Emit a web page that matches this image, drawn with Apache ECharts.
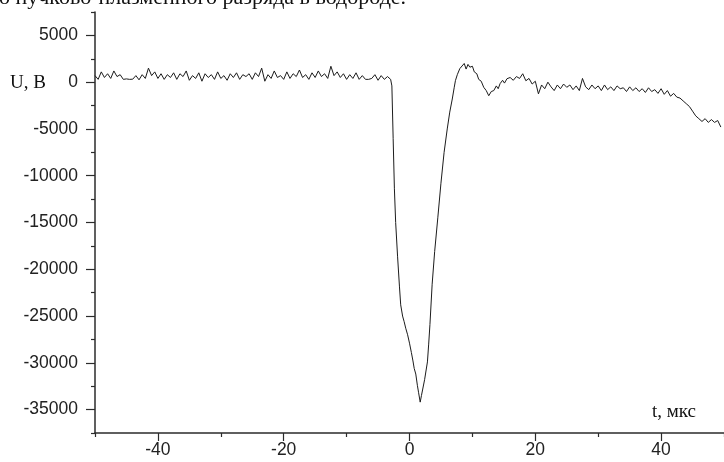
<!DOCTYPE html>
<html>
<head>
<meta charset="utf-8">
<script src="https://cdn.jsdelivr.net/npm/echarts@6/dist/echarts.min.js"></script>
<style>
  html, body { margin: 0; padding: 0; background: #fff; }
  #chart { width: 724px; height: 462px; }
</style>
</head>
<body>
<div id="chart"></div>
<script>
// voltage before the pulse, t = -50 ... -3.5 us, every 0.5 us
const preStart = -50;
const preStep = 0.5;
const preVolts = [
  700, 300, 1100, 500, 900, 400, 1200, 600, 800, 300,
  350, 300, 320, 700, 250, 800, 400, 1500, 700, 1100,
  400, 900, 300, 800, 500, 1000, 300, 900, 600, 1200,
  200, 700, 400, 1000, 100, 900, 500, 800, 300, 1100,
  400, 700, 200, 900, 500, 1000, 300, 800, 600, 900,
  300, 1000, 600, 1500, 100, 800, 400, 1200, 500, 700,
  300, 1100, 400, 900, 600, 1300, 500, 800, 300, 1000,
  500, 1200, 600, 900, 400, 1700, 700, 1100, 500, 900,
  300, 800, 400, 1000, 300, 700, 300, 300, 400, 800,
  200, 700, 300, 600
];

// the pulse itself, read point by point
const pulseTimes = [
  -3.0, -2.8, -2.6, -2.4, -2.2, -1.9, -1.6, -1.4, -1.1, -0.85,
  -0.6, -0.3, 0, 0.3, 0.55, 0.75, 1.0, 1.25, 1.45, 1.7,
  1.9, 2.05, 2.4, 2.85, 3.05, 3.25, 3.6, 4.0, 4.5, 5.0,
  5.5, 6.0, 6.4, 6.8, 7.1, 7.3, 7.6, 8.0, 8.3, 8.7,
  9.0, 9.3, 9.6, 10.0, 10.3, 10.7, 11.0, 11.4, 11.8, 12.2,
  12.6, 13.0, 13.4, 13.8, 14.1, 14.4, 14.8, 15.1, 15.5
];
const pulseVolts = [
  300, -400, -6000, -11400, -15000, -18600, -21800, -23800, -25000, -25600,
  -26300, -27000, -27900, -28900, -29800, -30600, -31200, -32400, -33200, -34200,
  -33500, -33300, -31800, -29900, -28000, -25900, -21600, -18100, -14500, -10800,
  -7500, -5000, -3200, -1800, -600, 160, 800, 1450, 1300, 2000,
  1400, 1900, 1600, 1700, 1100, 900, 300, 100, -550, -900,
  -1450, -1000, -900, -400, -700, -160, 200, -100, 370
];

// after the pulse, t = 16 ... 49.5 us, every 0.5 us
const postStart = 16;
const postStep = 0.5;
const postVolts = [
  500, 200, 600, 400, 900, 150, 400, -200, 100, -1250,
  -300, -700, 0, -500, -900, -300, -700, -200, -550, -300,
  -800, -400, -900, 400, -500, -800, -300, -700, -400, -900,
  -300, -800, -500, -900, -400, -700, -600, -1000, -500, -900,
  -600, -1000, -700, -1100, -600, -1000, -800, -1200, -700, -1300,
  -900, -1500, -1200, -1600, -1700, -2000, -2300, -2600, -3100, -3600,
  -3900, -4200, -3900, -4300, -4000, -4300, -4100, -4800
];

const yMajor = [-35000, -30000, -25000, -20000, -15000, -10000, -5000, 0, 5000];
const yMinor = [-37500, -32500, -27500, -22500, -17500, -12500, -7500, -2500, 2500, 7500];
const xMajor = [-40, -20, 0, 20, 40];
const xMinor = [-50, -30, -10, 10, 30, 50];

const points = [];
preVolts.forEach((v, i) => points.push([preStart + i * preStep, v]));
pulseTimes.forEach((t, i) => points.push([t, pulseVolts[i]]));
postVolts.forEach((v, i) => points.push([postStart + i * postStep, v]));

const axisColor = '#2b2b2b';
const labelFont = { fontFamily: 'Liberation Sans', fontSize: 17.5, color: '#222' };
const plain = (v) => String(v);

const chart = echarts.init(document.getElementById('chart'), null, { renderer: 'canvas' });

chart.setOption({
  animation: false,
  backgroundColor: '#fff',
  grid: { left: 95, right: -5, top: 12, bottom: 29, containLabel: false },
  xAxis: [
    {
      type: 'value',
      min: -50,
      max: 50,
      position: 'bottom',
      axisLine: { onZero: false, lineStyle: { color: axisColor, width: 1.5 } },
      axisTick: { customValues: xMajor, length: 8, lineStyle: { color: axisColor, width: 1.2 } },
      axisLabel: { customValues: xMajor, margin: 8, formatter: plain, ...labelFont },
      splitLine: { show: false },
    },
    {
      type: 'value',
      min: -50,
      max: 50,
      position: 'bottom',
      axisLine: { show: false, onZero: false },
      axisTick: { customValues: xMinor, length: 4, lineStyle: { color: axisColor, width: 1.2 } },
      axisLabel: { show: false },
      splitLine: { show: false },
    },
  ],
  yAxis: [
    {
      type: 'value',
      min: -37500,
      max: 7500,
      position: 'left',
      axisLine: { show: true, onZero: false, lineStyle: { color: axisColor, width: 1.5 } },
      axisTick: { show: true, customValues: yMajor, length: 9, lineStyle: { color: axisColor, width: 1.2 } },
      axisLabel: { customValues: yMajor, margin: 17, formatter: plain, ...labelFont },
      splitLine: { show: false },
    },
    {
      type: 'value',
      min: -37500,
      max: 7500,
      position: 'left',
      axisLine: { show: false, onZero: false },
      axisTick: { show: true, customValues: yMinor, length: 4, lineStyle: { color: axisColor, width: 1.2 } },
      axisLabel: { show: false },
      splitLine: { show: false },
    },
  ],
  graphic: [
    {
      type: 'text',
      left: -1,
      top: -13,
      style: {
        text: 'о пучково-плазменного разряда в водороде.',
        font: '22px "Liberation Serif"',
        fill: '#111',
      },
    },
    {
      type: 'text',
      left: 10,
      top: 74,
      style: { text: 'U, В', font: '19px "Liberation Serif"', fill: '#111' },
    },
    {
      type: 'text',
      left: 652,
      top: 403,
      style: { text: 't, мкс', font: '19px "Liberation Serif"', fill: '#111' },
    },
  ],
  series: [
    {
      type: 'line',
      xAxisIndex: 0,
      yAxisIndex: 0,
      data: points,
      showSymbol: false,
      symbol: 'none',
      lineStyle: { color: '#1c1c1c', width: 1 },
      clip: true,
    },
  ],
});
</script>
</body>
</html>
